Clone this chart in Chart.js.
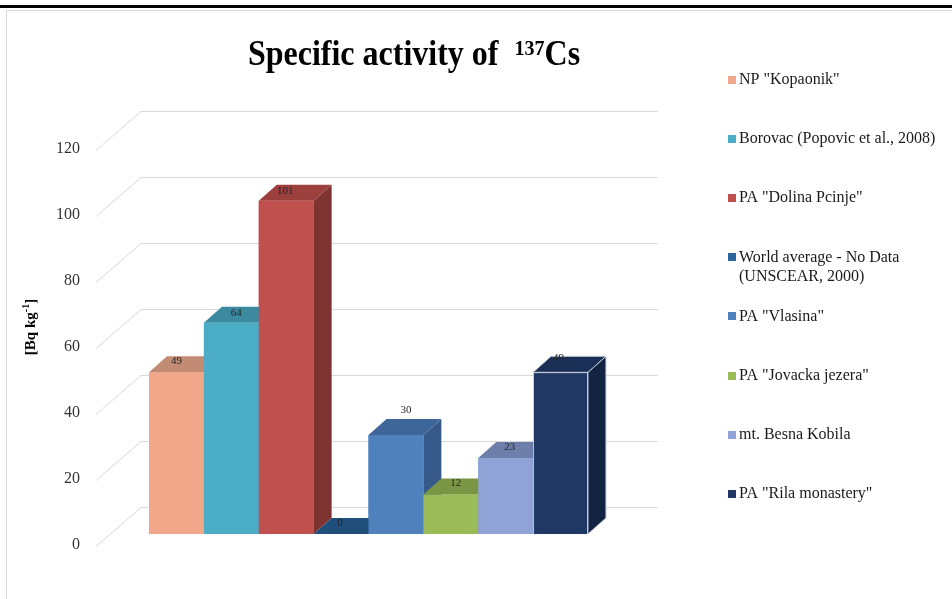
<!DOCTYPE html>
<html>
<head>
<meta charset="utf-8">
<script src="https://cdn.jsdelivr.net/npm/chart.js@4.4.1/dist/chart.umd.min.js"></script>
<style>
  html, body { margin: 0; padding: 0; background: #fff; }
  canvas { display: block; }
</style>
</head>
<body>
<canvas id="chart" width="952" height="599"></canvas>
<script>
// Sampling sites (one series per site, as in the source workbook)
const sites = [
  'NP "Kopaonik"',
  'Borovac (Popovic et al., 2008)',
  'PA "Dolina Pcinje"',
  'World average - No Data\n(UNSCEAR, 2000)',
  'PA "Vlasina"',
  'PA "Jovacka jezera"',
  'mt. Besna Kobila',
  'PA "Rila monastery"'
];
// Specific activity of Cs-137, Bq/kg
const activity = [49, 64, 101, 0, 30, 12, 23, 49];
// Value axis ticks
const yTickValues = [0, 20, 40, 60, 80, 100, 120];

// Face colours for each bar (front / top / right side)
const frontColors = ['#F0A78A', '#4BACC6', '#C0504D', '#2A679D', '#4F81BD', '#9BBB59', '#8FA3D6', '#1F3864'];
const topColors   = ['#C28B73', '#3B8AA0', '#9C403E', '#1F4F7A', '#3E6699', '#7A9645', '#6E7FAB', '#1A2F55'];
const sideColors  = ['#A8735E', '#2F7285', '#7E3331', '#193F63', '#36598A', '#66803A', '#5C6B92', '#132443'];
const edgeColors  = [null, null, null, null, null, null, null, '#C5CBD8'];
// Small hand adjustments for value labels (dx, dy)
const labelNudge = [[0, 0], [5, 1], [-1, 1], [-1, 0], [10, -14], [5, 0], [4, 0], [-2, -3]];

const SERIF = '"Liberation Serif", "Times New Roman", serif';
const BAR_DEPTH = { dx: 18, dy: 16 };   // depth of each bar
const WALL_BACK = { dx: 31, dy: 27 };   // back wall, measured from bar front plane
const WALL_FRONT = { dx: -14, dy: 12 }; // front floor edge

const scene3d = {
  id: 'scene3d',
  beforeDraw(chart) {
    const { ctx, width, height } = chart;
    ctx.save();
    ctx.fillStyle = '#ffffff';
    ctx.fillRect(0, 0, width, height);
    ctx.strokeStyle = '#D9D9D9';
    ctx.lineWidth = 1;
    ctx.strokeRect(6.5, 10.5, width, height);
    ctx.fillStyle = '#000000';
    ctx.fillRect(0, 5, width, 3);
    ctx.restore();
  },
  beforeDatasetsDraw(chart) {
    // side wall diagonals + back wall gridlines
    const { ctx, chartArea: a, scales: { y } } = chart;
    ctx.save();
    ctx.strokeStyle = '#D9D9D9';
    ctx.lineWidth = 1;
    y.ticks.forEach(t => {
      const py = Math.round(y.getPixelForValue(t.value)) + 0.5;
      ctx.beginPath();
      ctx.moveTo(a.left + WALL_FRONT.dx, py + WALL_FRONT.dy);
      ctx.lineTo(a.left + WALL_BACK.dx, py - WALL_BACK.dy);
      ctx.lineTo(a.right + WALL_BACK.dx, py - WALL_BACK.dy);
      ctx.stroke();
    });
    ctx.restore();
  },
  afterDatasetsDraw(chart) {
    const { ctx } = chart;
    const { dx, dy } = BAR_DEPTH;
    ctx.save();
    // left to right so nearer bars cover the side faces of earlier ones
    chart.data.datasets.forEach((ds, i) => {
      const bar = chart.getDatasetMeta(i).data[0];
      const { x, y, base, width } = bar.getProps(['x', 'y', 'base', 'width'], true);
      const l = x - width / 2, r = x + width / 2;
      const edge = edgeColors[i];
      ctx.lineWidth = 1;
      // right side face
      ctx.beginPath();
      ctx.moveTo(r, y); ctx.lineTo(r + dx, y - dy); ctx.lineTo(r + dx, base - dy); ctx.lineTo(r, base);
      ctx.closePath();
      ctx.fillStyle = sideColors[i];
      ctx.fill();
      if (edge) { ctx.strokeStyle = edge; ctx.stroke(); }
      // top face
      ctx.beginPath();
      ctx.moveTo(l, y); ctx.lineTo(l + dx, y - dy); ctx.lineTo(r + dx, y - dy); ctx.lineTo(r, y);
      ctx.closePath();
      ctx.fillStyle = topColors[i];
      ctx.fill();
      if (edge) { ctx.strokeStyle = edge; ctx.stroke(); }
      // front face on top
      bar.draw(ctx);
    });
    // value labels
    ctx.font = '11px ' + SERIF;
    ctx.fillStyle = '#262626';
    ctx.textAlign = 'center';
    ctx.textBaseline = 'middle';
    chart.data.datasets.forEach((ds, i) => {
      const bar = chart.getDatasetMeta(i).data[0];
      const { x, y } = bar.getProps(['x', 'y'], true);
      const [nx, ny] = labelNudge[i];
      ctx.fillText(String(ds.data[0]), x + nx, y - 11 + ny);
    });
    ctx.restore();
  },
  afterDraw(chart) {
    const { ctx } = chart;
    ctx.save();
    // chart title with superscript mass number
    const main = 'Specific activity of  ', sup = '137', tail = 'Cs';
    const bigFont = 'bold 32px ' + SERIF, supFont = 'bold 20px ' + SERIF;
    ctx.font = bigFont; const w1 = ctx.measureText(main).width, w3 = ctx.measureText(tail).width;
    ctx.font = supFont; const w2 = ctx.measureText(sup).width;
    const cx = 414, base = 65;
    ctx.translate(cx, base);
    ctx.scale(1, 1.1);
    let x = -(w1 + w2 + w3) / 2;
    ctx.fillStyle = '#000000';
    ctx.textBaseline = 'alphabetic';
    ctx.textAlign = 'left';
    ctx.font = bigFont; ctx.fillText(main, x, 0); x += w1;
    ctx.font = supFont; ctx.fillText(sup, x, -9); x += w2;
    ctx.font = bigFont; ctx.fillText(tail, x, 0);
    ctx.restore();

    // value axis title [Bq kg-1]
    ctx.save();
    ctx.translate(30, 327);
    ctx.rotate(-Math.PI / 2);
    const a1 = '[Bq kg', a2 = '-1', a3 = ']';
    const f1 = 'bold 15px ' + SERIF, f2 = 'bold 10px ' + SERIF;
    ctx.font = f1; const u1 = ctx.measureText(a1).width, u3 = ctx.measureText(a3).width;
    ctx.font = f2; const u2 = ctx.measureText(a2).width;
    let ax = -(u1 + u2 + u3) / 2;
    ctx.fillStyle = '#000000';
    ctx.textBaseline = 'alphabetic';
    ctx.font = f1; ctx.fillText(a1, ax, 5); ax += u1;
    ctx.font = f2; ctx.fillText(a2, ax, -1); ax += u2;
    ctx.font = f1; ctx.fillText(a3, ax, 5);
    ctx.restore();

    // legend
    ctx.save();
    ctx.font = '16px ' + SERIF;
    ctx.textBaseline = 'middle';
    ctx.textAlign = 'left';
    chart.data.datasets.forEach((ds, i) => {
      const cy = 80 + i * 59.1;
      ctx.fillStyle = frontColors[i];
      ctx.fillRect(728, Math.round(cy) - 4, 8, 8);
      ctx.fillStyle = '#1a1a1a';
      ds.label.split('\n').forEach((line, k) => ctx.fillText(line, 739, cy + k * 19));
    });
    ctx.restore();
  }
};

new Chart(document.getElementById('chart'), {
  type: 'bar',
  data: {
    labels: [''],
    datasets: sites.map((name, i) => ({
      label: name,
      data: [activity[i]],
      backgroundColor: frontColors[i],
      borderColor: edgeColors[i] || frontColors[i],
      borderWidth: edgeColors[i] ? 1 : 0
    }))
  },
  options: {
    responsive: false,
    animation: false,
    layout: { padding: { left: 0, right: 325, top: 138, bottom: 65 } },
    datasets: { bar: { categoryPercentage: 0.849, barPercentage: 1 } },
    plugins: {
      legend: { display: false },
      tooltip: { enabled: false },
      title: { display: false }
    },
    scales: {
      x: { display: false },
      y: {
        min: yTickValues[0],
        max: yTickValues[yTickValues.length - 1],
        ticks: {
          stepSize: yTickValues[1] - yTickValues[0],
          padding: 30,
          labelOffset: 11,
          color: '#333333',
          font: { family: SERIF, size: 16 }
        },
        grid: { display: false, drawTicks: false },
        border: { display: false },
        afterFit(scale) { scale.width = 110; }
      }
    }
  },
  plugins: [scene3d]
});
</script>
</body>
</html>
